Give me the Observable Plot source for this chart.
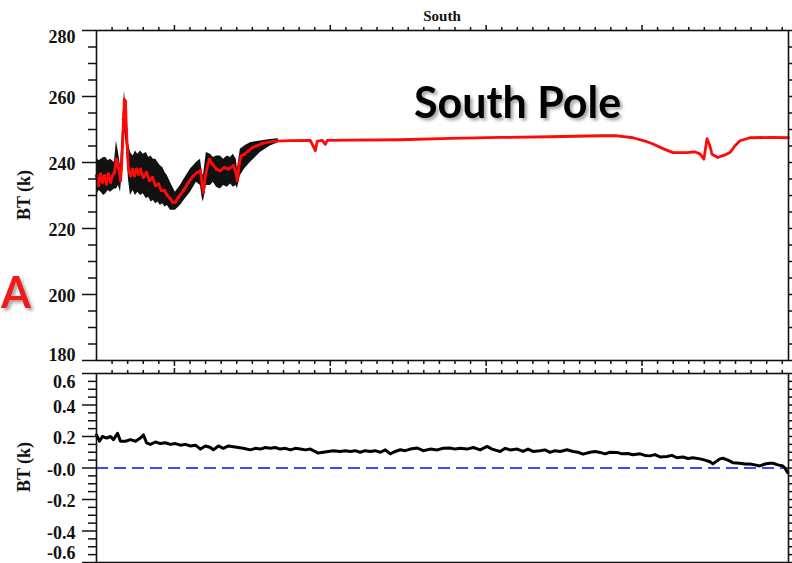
<!DOCTYPE html>
<html><head><meta charset="utf-8">
<script src="https://cdn.jsdelivr.net/npm/d3@7"></script>
<script src="https://cdn.jsdelivr.net/npm/@observablehq/plot@0.6"></script>
<style>
body{margin:0;background:#fff;}
#wrap{position:relative;width:792px;height:563px;overflow:hidden;background:#fff;}
#wrap svg{position:absolute;left:0;}
</style></head><body><div id="wrap"></div>
<script>
// ---------- data ----------
const xDomain = [0, 444];
const xMajorTicks = [50, 150, 250, 350];
const topYDomain = [180, 280];
const topYTicks = [180, 200, 220, 240, 260, 280];
const botYDomain = [-0.6, 0.6];
const botYTicks = [-0.6, -0.4, -0.2, 0, 0.2, 0.4, 0.6];

// red (mean) brightness temperature, [x, BT]
const redSeries = [
 [0,236],[1.3,233],[2.6,236.5],[3.8,234],[5.1,236],[6.4,233.5],[7.7,236.5],[9,234],[10.3,236],[11.5,237],
 [12.2,239],[12.8,241],[13.5,240],[14.1,238.5],[14.7,237],[15.4,234.5],[16,238],[16.7,245],[17.3,253],[17.9,259],
 [18.6,258.5],[19.2,250],[19.9,243],[20.5,238],[21.8,236],[23.1,238],[24.4,236],[25.6,238],[26.9,236.5],[28.2,238],
 [30.1,235.5],[32.1,237],[34,234.5],[35.9,235.5],[37.8,233],[39.7,233.5],[41.7,231.5],[43.6,231.5],[45.5,230],[47.4,229],
 [48.7,228],[50.6,228],[52.6,229.5],[55.8,231.5],[59,234],[62.2,236],[64.7,237],[66.7,237.5],[67.9,233],[68.6,231],
 [69.9,236],[71.2,239],[72.4,241],[74.4,239.5],[76.9,238],[79.5,237.5],[82.1,238.5],[84.6,238],[87.8,239],[89.1,237.5],
 [90.4,234.5],[91.7,240],[92.9,242],[94.9,242.5],[97.4,243.5],[100,244.5],[102.6,245],[106.4,245.8],[110.3,246.2],[114.7,246.5],
 [124.4,246.6],[137.2,246.7],[140.4,243.6],[141.7,246.5],[144.9,246.7],[146.8,245.5],[148.1,246.7],[162.8,246.8],[194.9,246.9],[226.9,247.3],
 [259,247.6],[291,247.8],[323.1,248.1],[334,248.1],[344.2,247.5],[351.9,246.5],[357.1,245.6],[363.5,244.2],[369.9,243],[378.8,243],
 [384,243.2],[387.2,242.6],[389.7,241],[391.7,247.2],[393.6,245],[394.9,242.5],[398.7,241.5],[403.2,242.3],[406.4,243],[409.6,245],
 [412.8,246.6],[419.2,247.5],[432.1,247.6],[444,247.5]
];

// black (individual measurements) envelope, [x, low, high]
const blackBand = [
 [0,230,241.5],[1.5,231.5,240.5],[3,231,241],[4.5,230,241.5],[6,230.5,241.5],[7.5,231.5,240.5],[9,231,241],[11.5,232,240],
 [12.8,232,246.5],[14.1,233,243],[15.4,231,239],[16.7,238,250],[17.9,250,261.5],[19.2,245,256],[20.5,235,246],
 [21.8,230,243],[23.5,231.5,242],[25,230,243.5],[26.5,231,242.5],[28.2,230,243.5],[30,230.5,242.5],[32,229,243],
 [33.5,229.5,241.5],[35,228,242],[36.5,228.5,241],[38,227.5,241],[39.5,228,240],[41,227,239],[42.5,227.5,238.5],
 [44,226.5,237],[45.5,227,236],[47.4,225.5,234],[50.6,225.5,231],[53.8,227,233],[57,229,235.5],
 [60.3,231,238],[64.1,234,240],[66.7,233,241],[67.9,229,237],[68.6,228,236],[70.5,233,243],[73.1,233,242.5],
 [75,234,241.5],[77,232.5,242],[79.5,232,242],[81.5,233,241],[84,232.5,242],[86,233.5,241.5],[87.8,232.5,242.5],
 [89.7,233,241],[90.4,232,238],[92.3,236,244],[95,238,245],[98.7,240,246],[102,241.5,246.3],
 [105.1,243,246.5],[111.5,245,247],[116.7,246,247.2]
];

// difference series (bottom panel), [x, dBT]
const diffSeries = [
 [0,0.21],[1.9,0.17],[3.8,0.2],[6.4,0.19],[9,0.2],[10.9,0.18],[13.5,0.22],[15.4,0.17],[18.6,0.17],[21.8,0.18],
 [25,0.17],[28.2,0.19],[30.1,0.21],[32.1,0.16],[34.6,0.15],[37.8,0.165],[41,0.155],[44.2,0.16],[47.4,0.15],[50.6,0.155],
 [53.8,0.145],[57.1,0.15],[60.3,0.14],[63.5,0.145],[66.7,0.12],[69.9,0.14],[73.1,0.13],[75,0.115],[78.2,0.14],[81.4,0.125],
 [84.6,0.14],[87.8,0.135],[91,0.13],[94.2,0.125],[98.7,0.115],[101.9,0.125],[105.1,0.12],[108.3,0.13],[111.5,0.125],[114.7,0.13],
 [117.9,0.12],[121.2,0.125],[124.4,0.115],[127.6,0.125],[130.8,0.12],[134,0.115],[137.2,0.12],[139.1,0.11],[142.3,0.095],[145.5,0.1],
 [148.7,0.105],[151.9,0.11],[156.4,0.105],[159.6,0.11],[162.8,0.105],[166,0.11],[169.2,0.1],[172.4,0.11],[175.6,0.105],[178.8,0.11],
 [182.1,0.1],[185.3,0.115],[188.5,0.09],[191.7,0.105],[194.9,0.116],[198.1,0.11],[201.3,0.12],[205.8,0.127],[209.6,0.11],[214.1,0.12],
 [218.6,0.115],[222.4,0.125],[226.9,0.127],[230.1,0.12],[233.3,0.125],[237.8,0.12],[241.7,0.13],[246.2,0.115],[250.6,0.137],[253.8,0.12],
 [259,0.105],[262.2,0.125],[265.4,0.115],[269.9,0.12],[273.7,0.105],[276.9,0.12],[280.1,0.105],[284.6,0.11],[287.8,0.115],[291,0.099],
 [294.2,0.11],[297.4,0.105],[301.9,0.116],[305.8,0.105],[309,0.1],[312.2,0.088],[316.7,0.1],[319.9,0.105],[323.1,0.099],[326.3,0.09],
 [329.5,0.1],[334,0.099],[337.2,0.09],[341,0.092],[344.2,0.084],[348.7,0.09],[351.9,0.08],[355.1,0.077],[358.3,0.085],[361.5,0.07],
 [366,0.073],[369.2,0.08],[372.4,0.065],[376.3,0.07],[379.5,0.06],[382.7,0.065],[387.2,0.058],[390.4,0.05],[393.6,0.04],[395.5,0.026],
 [398.1,0.045],[400,0.058],[401.9,0.062],[405.1,0.05],[408.3,0.034],[412.8,0.03],[416,0.025],[419.2,0.026],[422.4,0.02],[425.6,0.013],
 [428.8,0.025],[432.1,0.03],[434,0.03],[437.2,0.02],[440.4,0.013],[441.7,0.0],[443.5,-0.03]
];
const zeroLine = [0];

// text
const titleText = "South";
const yLabel = "BT (k)";
const annotation = "South Pole";
const panelLetter = "A";

// ---------- helpers ----------
const W = 792;
const ML = 96, MR = 4;
const style = {fontFamily: "'Liberation Serif','Times New Roman',serif", fontWeight: "bold", fontSize: "18px", color: "#111", background: "transparent"};
const xMinor = d3.range(10, 444, 10).filter(v => !xMajorTicks.includes(v));
const tk = {stroke: "#111", strokeWidth: 1.5, fill: "none", label: null};

function xAxes(anchor) {
  return [
    Plot.axisX(xMinor, {...tk, anchor, tickSize: 4}),
    Plot.axisX(xMajorTicks, {...tk, anchor, tickSize: 6})
  ];
}
function yTickAxes(major, minor) {
  const out = [];
  for (const anchor of ["left", "right"]) {
    out.push(Plot.axisY(minor, {...tk, anchor, tickSize: 8}));
    out.push(Plot.axisY(major, {...tk, anchor, tickSize: 14}));
  }
  return out;
}
function yLabels(vals, dy, fmt) {
  return Plot.axisY(vals, {anchor: "left", tickSize: 0, tickPadding: 21, dy, fill: "#111", stroke: null, tickFormat: fmt, label: null});
}

// ---------- top panel ----------
const topMinor = d3.range(180, 281, 5).filter(v => !topYTicks.includes(v));
const topPlot = Plot.plot({
  width: W, height: 366,
  marginLeft: ML, marginRight: MR, marginTop: 30, marginBottom: 6,
  style,
  x: {domain: xDomain, label: null},
  y: {domain: topYDomain, label: null},
  marks: [
    Plot.areaY(blackBand, {x: d => d[0], y1: d => d[1], y2: d => d[2], fill: "#111", curve: "linear"}),
    Plot.line(redSeries, {x: d => d[0], y: d => d[1], stroke: "#ff0a0a", strokeWidth: 2.8}),
    Plot.dot(redSeries.filter(d => d[0] < 110), {x: d => d[0], y: d => d[1], r: 1.7, fill: "#ff0a0a"}),
    Plot.frame({stroke: "#111", strokeWidth: 1.6}),
    ...xAxes("top"), ...xAxes("bottom"),
    ...yTickAxes(topYTicks, topMinor),
    yLabels([200, 220, 240, 260], 1.5, d => String(d)),
    yLabels([280], 7, d => String(d)),
    yLabels([180], -5, d => String(d))
  ]
});
topPlot.style.top = "0px";

// ---------- bottom panel ----------
const botMinor = d3.range(-12, 13).map(v => v * 0.05).filter(v => Math.abs(Math.round(v * 100)) % 20 !== 0);
const fmtB = d => (Math.abs(d) < 1e-9 ? "-0.0" : d.toFixed(1));
const botPlot = Plot.plot({
  width: W, height: 197,
  marginLeft: ML, marginRight: MR, marginTop: 7, marginBottom: 1,
  style,
  x: {domain: xDomain, label: null},
  y: {domain: botYDomain, label: null},
  marks: [
    Plot.ruleY(zeroLine, {stroke: "#4545ff", strokeWidth: 1.8, strokeDasharray: "12,6"}),
    Plot.line(diffSeries, {x: d => d[0], y: d => d[1], stroke: "#000", strokeWidth: 3}),
    Plot.frame({stroke: "#111", strokeWidth: 1.6}),
    ...xAxes("top"), ...xAxes("bottom"),
    ...yTickAxes(botYTicks, botMinor),
    yLabels([-0.4, -0.2, 0, 0.2, 0.4], 2, fmtB),
    yLabels([0.6], 9, fmtB),
    yLabels([-0.6], -9, fmtB)
  ]
});
botPlot.style.top = "366px";

const wrap = document.getElementById("wrap");
wrap.appendChild(topPlot);
wrap.appendChild(botPlot);

// ---------- overlay texts ----------
const ns = "http://www.w3.org/2000/svg";
const ov = document.createElementNS(ns, "svg");
ov.setAttribute("width", W); ov.setAttribute("height", 563);
ov.style.top = "0px"; ov.style.pointerEvents = "none";
ov.innerHTML = `
<defs><filter id="sh" x="-20%" y="-20%" width="150%" height="160%">
<feDropShadow dx="2.5" dy="2.5" stdDeviation="1.8" flood-color="#000" flood-opacity="0.35"/></filter></defs>
<text x="442" y="21" text-anchor="middle" font-family="'Liberation Serif',serif" font-weight="bold" font-size="15" fill="#111"></text>
<text transform="translate(30,195) rotate(-90)" text-anchor="middle" font-family="'Liberation Serif',serif" font-weight="bold" font-size="18" fill="#111"></text>
<text transform="translate(30,467) rotate(-90)" text-anchor="middle" font-family="'Liberation Serif',serif" font-weight="bold" font-size="18" fill="#111"></text>
<text x="414" y="118" font-family="Lato,'Open Sans',sans-serif" font-weight="bold" font-size="43" fill="#000" filter="url(#sh)"></text>
<text x="1" y="308" text-anchor="start" font-family="Lato,'Open Sans',sans-serif" font-weight="bold" font-size="43" fill="#ee1c1c" filter="url(#sh)"></text>`;
const ts = ov.querySelectorAll("text");
ts[0].textContent = titleText;
ts[1].textContent = yLabel;
ts[2].textContent = yLabel;
ts[3].textContent = annotation;
ts[4].textContent = panelLetter;
wrap.appendChild(ov);
</script></body></html>
